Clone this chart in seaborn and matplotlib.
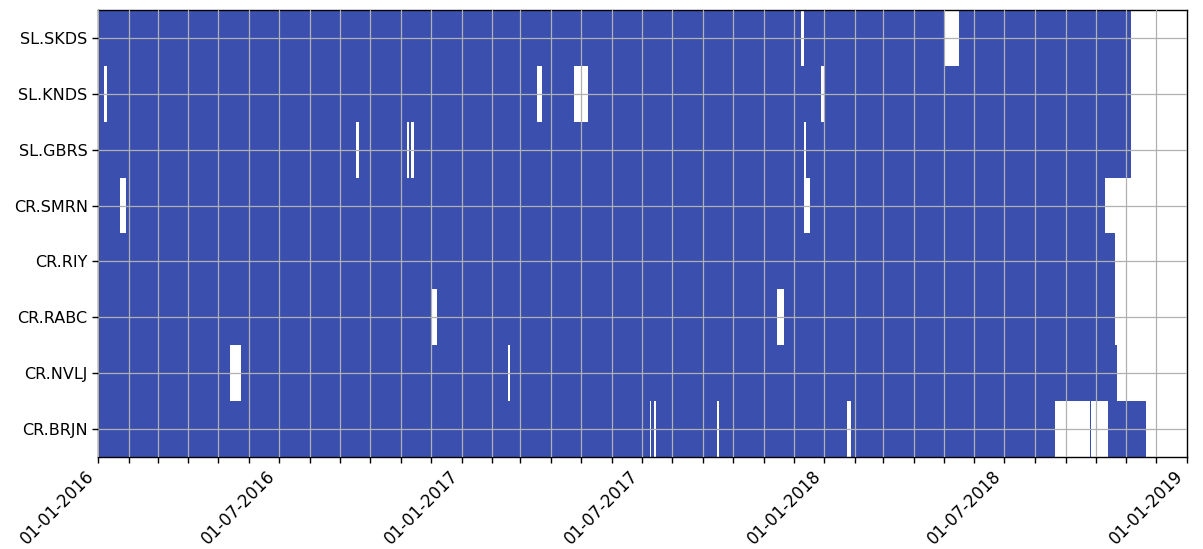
import pandas as pd
import matplotlib
matplotlib.use("Agg")
import matplotlib.pyplot as plt
import matplotlib.dates as mdates
from matplotlib.ticker import FuncFormatter
import seaborn as sns

# Stations, top to bottom
stations = ["SL.SKDS", "SL.KNDS", "SL.GBRS", "CR.SMRN",
            "CR.RIY", "CR.RABC", "CR.NVLJ", "CR.BRJN"]

record_start = "2016-01-01"
record_end = ["2018-11-05 14:00", "2018-11-05 14:00", "2018-11-05 07:00", "2018-10-10 12:00",
              "2018-10-20 19:00", "2018-10-20 19:00", "2018-10-22 07:00", "2018-11-20 19:00"]

# Missing-data periods per station
gaps_skds = [("2017-12-08 12:00", "2017-12-11 19:00"), ("2018-05-02 05:00", "2018-05-16 07:00")]
gaps_knds = [("2016-01-06 17:00", "2016-01-09 19:00"), ("2017-03-18 02:00", "2017-03-23 05:00"),
             ("2017-04-23 19:00", "2017-05-08 05:00"), ("2017-12-28 07:00", "2018-01-02 00:00")]
gaps_gbrs = [("2016-09-16 17:00", "2016-09-19 10:00"), ("2016-11-06 17:00", "2016-11-09 00:00"),
             ("2016-11-11 07:00", "2016-11-13 17:00"), ("2017-12-11 19:00", "2017-12-13 05:00")]
gaps_smrn = [("2016-01-23 02:00", "2016-01-28 22:00"), ("2017-12-11 19:00", "2017-12-17 22:00")]
gaps_riy = []
gaps_rabc = [("2016-11-30 19:00", "2016-12-06 22:00"), ("2017-11-14 17:00", "2017-11-21 17:00")]
gaps_nvlj = [("2016-05-12 22:00", "2016-05-24 05:00"), ("2017-02-17 00:00", "2017-02-19 00:00")]
gaps_brjn = [("2017-07-09 14:00", "2017-07-10 22:00"), ("2017-07-14 00:00", "2017-07-15 07:00"),
             ("2017-09-14 17:00", "2017-09-16 17:00"), ("2018-01-23 12:00", "2018-01-28 05:00"),
             ("2018-08-20 22:00", "2018-09-01 00:00"), ("2018-09-02 06:00", "2018-09-25 10:00"),
             ("2018-09-26 10:00", "2018-10-13 05:00")]

all_gaps = [gaps_skds, gaps_knds, gaps_gbrs, gaps_smrn,
            gaps_riy, gaps_rabc, gaps_nvlj, gaps_brjn]

bar_color = "#3a4fae"

sns.set_style("ticks")
plt.rcParams.update({
    "axes.edgecolor": "black",
    "axes.linewidth": 1.0,
    "xtick.color": "black",
    "ytick.color": "black",
    "text.color": "black",
})

fig = plt.figure(figsize=(12.03, 5.49), dpi=100)
ax = fig.add_axes([0.0815, 0.1676, 0.9052, 0.8142])


def available_ranges(start, end, gaps):
    # turn gap list into (x, width) pieces of available data
    pieces = []
    cur = pd.Timestamp(start)
    for g0, g1 in gaps:
        g0, g1 = pd.Timestamp(g0), pd.Timestamp(g1)
        if g0 > cur:
            pieces.append((cur, g0))
        cur = g1
    end = pd.Timestamp(end)
    if end > cur:
        pieces.append((cur, end))
    return [(mdates.date2num(a), mdates.date2num(b) - mdates.date2num(a)) for a, b in pieces]


for i, name in enumerate(stations):
    xr = available_ranges(record_start, record_end[i], all_gaps[i])
    ax.broken_barh(xr, (i - 0.5, 1.0), facecolors=bar_color, linewidth=0)

ax.set_ylim(len(stations) - 0.5, -0.5)
ax.set_yticks(range(len(stations)))
ax.set_yticklabels(stations, fontsize=11.5)

ax.set_xlim(pd.Timestamp("2016-01-01"), pd.Timestamp("2019-01-01"))
ax.xaxis.set_major_locator(mdates.MonthLocator())


def month_label(x, pos):
    d = mdates.num2date(x)
    return d.strftime("%d-%m-%Y") if d.month in (1, 7) else ""


ax.xaxis.set_major_formatter(FuncFormatter(month_label))
plt.setp(ax.get_xticklabels(), rotation=45, ha="right", fontsize=12)
ax.tick_params(axis="both", length=4, width=1)

ax.set_axisbelow(False)
ax.grid(True, color="#b0b0b0", linewidth=0.9)
for s in ax.spines.values():
    s.set_visible(True)

fig.savefig("out.png", dpi=100)
